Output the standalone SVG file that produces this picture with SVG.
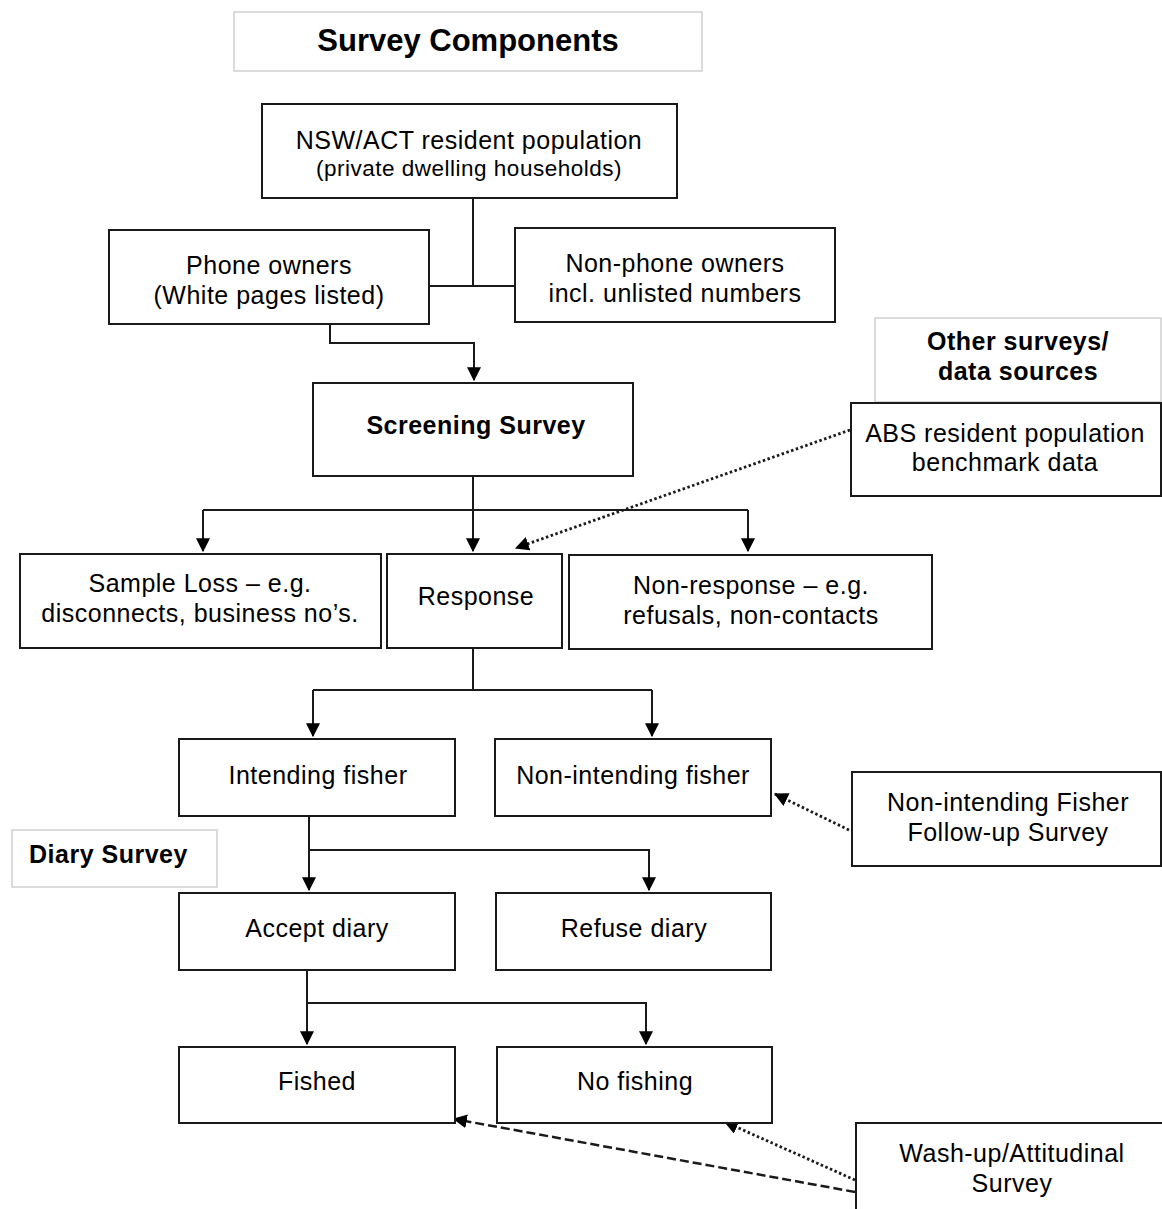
<svg xmlns="http://www.w3.org/2000/svg" width="1162" height="1209" viewBox="0 0 1162 1209">
<style>
.box{fill:#fff;stroke:#1a1a1a;stroke-width:2}
.lbox{fill:#fff;stroke:#cfcfcf;stroke-width:1.5}
.t{font-family:"Liberation Sans",Arial,sans-serif;font-size:25px;fill:#000;text-anchor:middle;letter-spacing:0.5px}
.b{font-weight:bold}
.c{fill:none;stroke:#1a1a1a;stroke-width:2}
.dot{fill:none;stroke:#1a1a1a;stroke-width:2.8;stroke-dasharray:2.5 2.5}
.dash{fill:none;stroke:#1a1a1a;stroke-width:2.5;stroke-dasharray:9 4}
</style>
<defs>
<marker id="ah2" viewBox="0 0 12 12" refX="11" refY="6" markerWidth="14" markerHeight="14" markerUnits="userSpaceOnUse" orient="auto">
<path d="M0,0 L12,6 L0,12 Z" fill="#000"/>
</marker>
</defs>
<rect width="1162" height="1209" fill="#fff"/>

<g id="connectors">
<path class="c" d="M473,198 V286 M429,286 H515"/>
<path class="c" d="M330,324 V343 H474 V380" marker-end="url(#ah2)"/>
<path class="c" d="M473,476 V551" marker-end="url(#ah2)"/>
<path class="c" d="M203,510 H748"/>
<path class="c" d="M203,510 V551" marker-end="url(#ah2)"/>
<path class="c" d="M748,510 V551" marker-end="url(#ah2)"/>
<path class="c" d="M473,648 V690 M313,690 H652"/>
<path class="c" d="M313,690 V736" marker-end="url(#ah2)"/>
<path class="c" d="M652,690 V736" marker-end="url(#ah2)"/>
<path class="c" d="M309,816 V890" marker-end="url(#ah2)"/>
<path class="c" d="M309,850 H649 V890" marker-end="url(#ah2)"/>
<path class="c" d="M307,970 V1044" marker-end="url(#ah2)"/>
<path class="c" d="M307,1003 H646 V1044" marker-end="url(#ah2)"/>
<path class="dot" d="M850,430 L516,548" marker-end="url(#ah2)"/>
<path class="dot" d="M849,830 L775,794" marker-end="url(#ah2)"/>
<path class="dash" d="M855,1192 L454,1119" marker-end="url(#ah2)"/>
<path class="dot" d="M855,1180 L725,1122" marker-end="url(#ah2)"/>
</g>

<g id="title">
<rect class="lbox" x="234" y="12" width="468" height="59"/>
<text class="t b" x="468" y="51" style="font-size:31px;letter-spacing:0">Survey Components</text>
</g>
<g id="nsw">
<rect class="box" x="262" y="104" width="415" height="94"/>
<text class="t" x="469" y="149">NSW/ACT resident population</text>
<text class="t" x="469" y="176" style="font-size:22.5px">(private dwelling households)</text>
</g>
<g id="phone">
<rect class="box" x="109" y="230" width="320" height="94"/>
<text class="t" x="269" y="274">Phone owners</text>
<text class="t" x="269" y="304">(White pages listed)</text>
</g>
<g id="nonphone">
<rect class="box" x="515" y="228" width="320" height="94"/>
<text class="t" x="675" y="272">Non-phone owners</text>
<text class="t" x="675" y="302">incl. unlisted numbers</text>
</g>
<g id="other">
<rect class="lbox" x="875" y="318" width="286" height="84"/>
<text class="t b" x="1018" y="350">Other surveys/</text>
<text class="t b" x="1018" y="380">data sources</text>
</g>
<g id="screening">
<rect class="box" x="313" y="383" width="320" height="93"/>
<text class="t b" x="476" y="434">Screening Survey</text>
</g>
<g id="abs">
<rect class="box" x="851" y="403" width="310" height="93"/>
<text class="t" x="1005" y="442">ABS resident population</text>
<text class="t" x="1005" y="471">benchmark data</text>
</g>
<g id="sampleloss">
<rect class="box" x="20" y="554" width="361" height="94"/>
<text class="t" x="200" y="592">Sample Loss – e.g.</text>
<text class="t" x="200" y="622">disconnects, business no’s.</text>
</g>
<g id="response">
<rect class="box" x="387" y="554" width="175" height="94"/>
<text class="t" x="476" y="605">Response</text>
</g>
<g id="nonresponse">
<rect class="box" x="569" y="555" width="363" height="94"/>
<text class="t" x="751" y="594">Non-response – e.g.</text>
<text class="t" x="751" y="624">refusals, non-contacts</text>
</g>
<g id="intending">
<rect class="box" x="179" y="739" width="276" height="77"/>
<text class="t" x="318" y="784">Intending fisher</text>
</g>
<g id="nonintending">
<rect class="box" x="495" y="739" width="276" height="77"/>
<text class="t" x="633" y="784">Non-intending fisher</text>
</g>
<g id="followup">
<rect class="box" x="852" y="772" width="309" height="94"/>
<text class="t" x="1008" y="811">Non-intending Fisher</text>
<text class="t" x="1008" y="841">Follow-up Survey</text>
</g>
<g id="diarysurvey">
<rect class="lbox" x="12" y="830" width="205" height="57"/>
<text class="t b" x="29" y="863" style="text-anchor:start">Diary Survey</text>
</g>
<g id="accept">
<rect class="box" x="179" y="893" width="276" height="77"/>
<text class="t" x="317" y="937">Accept diary</text>
</g>
<g id="refuse">
<rect class="box" x="496" y="893" width="275" height="77"/>
<text class="t" x="634" y="937">Refuse diary</text>
</g>
<g id="fished">
<rect class="box" x="179" y="1047" width="276" height="76"/>
<text class="t" x="317" y="1090">Fished</text>
</g>
<g id="nofishing">
<rect class="box" x="497" y="1047" width="275" height="76"/>
<text class="t" x="635" y="1090">No fishing</text>
</g>
<g id="washup">
<rect class="box" x="856" y="1123" width="310" height="96"/>
<text class="t" x="1012" y="1162">Wash-up/Attitudinal</text>
<text class="t" x="1012" y="1192">Survey</text>
</g>
</svg>
